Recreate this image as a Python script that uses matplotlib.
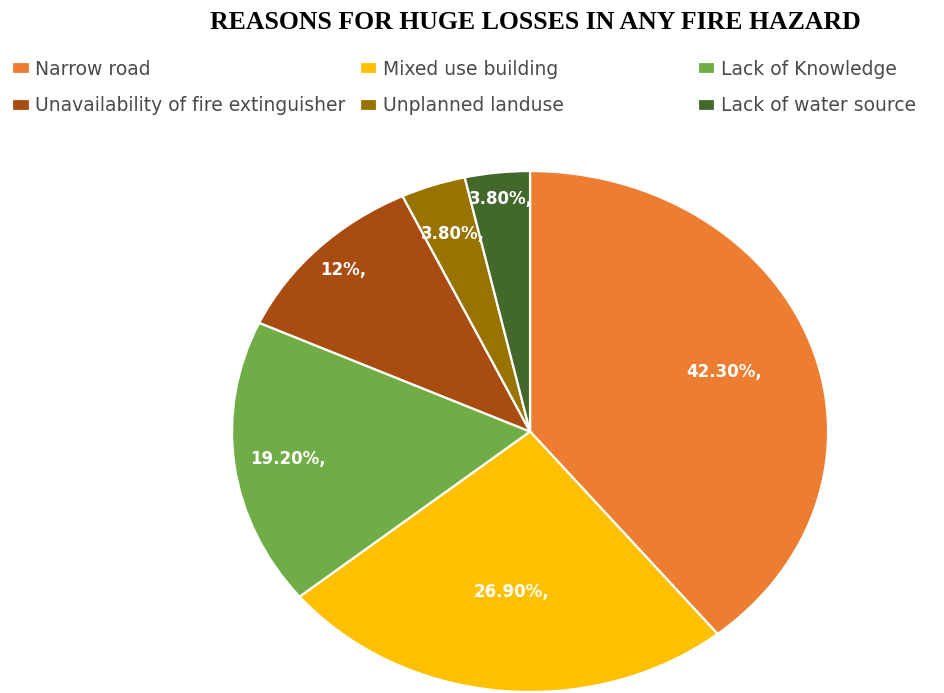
import numpy as np
import matplotlib.pyplot as plt

reasons = ["Narrow road", "Mixed use building", "Lack of Knowledge",
           "Unavailability of fire extinguisher", "Unplanned landuse",
           "Lack of water source"]
shares = [42.3, 26.9, 19.2, 12.0, 3.8, 3.8]
share_labels = ["42.30%,", "26.90%,", "19.20%,", "12%,", "3.80%,", "3.80%,"]
colors = ["#ED7D31", "#FFC000", "#70AD47", "#A84C12", "#997300", "#43682B"]
# how far out each label sits, as a fraction of the radius
label_r = [0.69, 0.62, 0.82, 0.88, 0.80, 0.90]

fig = plt.figure(figsize=(9.44, 6.93), dpi=100)
ax = fig.add_axes([0.2458, 0.0014, 0.6314, 0.7518])

wedges, _ = ax.pie(shares, colors=colors, startangle=90, counterclock=False,
                   radius=1.0, wedgeprops=dict(edgecolor="white", linewidth=1.6))
ax.set_aspect("auto")
ax.set_xlim(-1, 1)
ax.set_ylim(-1, 1)

for w, txt, r in zip(wedges, share_labels, label_r):
    mid = np.deg2rad((w.theta1 + w.theta2) / 2)
    ax.text(r * np.cos(mid), r * np.sin(mid), txt, ha="center", va="center",
            color="white", fontsize=12, fontweight="bold", family="DejaVu Sans")

fig.text(0.567, 0.967, "REASONS FOR HUGE LOSSES IN ANY FIRE HAZARD",
         ha="center", va="center", fontsize=18.5, fontweight="bold",
         family="Liberation Serif")

# legend laid out as 3 columns, row-wise order
col_x = [0.0127, 0.381, 0.739]
for i, x in enumerate(col_x):
    idx = [i, i + 3]
    fig.legend([wedges[j] for j in idx], [reasons[j] for j in idx],
               loc="upper left", bbox_to_anchor=(x, 0.914), frameon=False,
               handlelength=0.95, handleheight=0.65, handletextpad=0.3,
               labelspacing=0.95, borderpad=0, borderaxespad=0,
               prop=dict(family="DejaVu Sans", size=13.5), labelcolor="#4a4a4a")

fig.savefig("out.png", dpi=100)
